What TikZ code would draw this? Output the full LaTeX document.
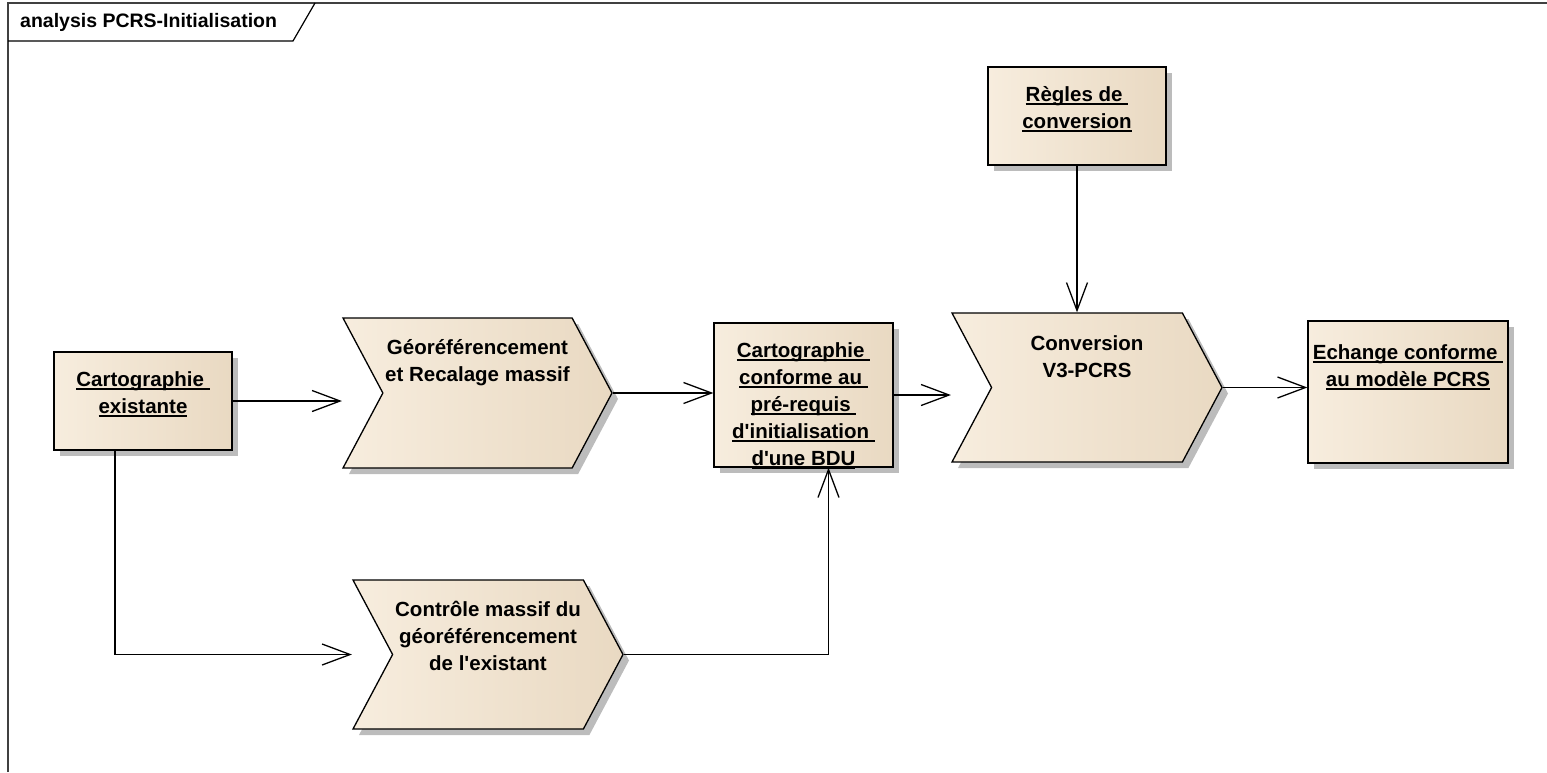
\documentclass[tikz,border=0pt]{standalone}
\usepackage{fontspec}
\setmainfont{Liberation Sans}
\usepackage{tikz}
\usetikzlibrary{arrows.meta, positioning, shapes.symbols, shadows, calc}
\definecolor{boxl}{RGB}{247,237,222}
\definecolor{boxm}{RGB}{251,243,231}
\definecolor{boxr}{RGB}{233,217,194}
\definecolor{shadowgray}{RGB}{188,188,188}
\newsavebox{\ultextbox}
\newcommand{\ulined}[1]{\sbox{\ultextbox}{#1}\rlap{\rule[-3.5pt]{\wd\ultextbox}{1.6pt}}\usebox{\ultextbox}}
\tikzset{
  arrow/.style   = {line width=1.3pt, -{Straight Barb[length=28pt, width=21pt]}},
  element/.style = {draw=black, line width=1.3pt, left color=boxl, middle color=boxm, right color=boxr,
                    drop shadow={shadow xshift=6pt, shadow yshift=-6pt, fill=shadowgray, draw=none, opacity=1}},
  umlbox/.style  = {element, rectangle, inner sep=0pt},
  chevron/.style = {element, signal, signal from=west, signal to=east, signal pointer angle=124, inner sep=0pt},
  label/.style   = {font=\bfseries\fontsize{20.5}{27}\selectfont, align=center, inner sep=0pt, execute at begin node=\strut},
}

\begin{document}
\begin{tikzpicture}[x=1pt, y=-1pt]
    \useasboundingbox (0,0) rectangle (1547,772);
    \draw [black!75, line width=1.2pt] (8,772) -- (8,3) -- (1547,3);
    \draw [black, line width=1.2pt] (8,41) -- (293,41) -- (315,3);
    \node (title) at (20,22) [anchor=west, inner sep=0pt, font=\bfseries\fontsize{19.5}{20}\selectfont]
          {analysis PCRS-Initialisation};

    \node (cartex)   at (143,401)   [umlbox, minimum width=178pt, minimum height=98pt]  {};
    \node (georef)   at (477.5,393) [chevron, minimum width=269pt, minimum height=150pt] {};
    \node (cartconf) at (803.5,395) [umlbox, minimum width=179pt, minimum height=144pt] {};
    \node (ctrl)     at (488,654.5) [chevron, minimum width=270pt, minimum height=149pt] {};
    \node (conv)     at (1087,387.5) [chevron, minimum width=270pt, minimum height=149pt] {};
    \node (regles)   at (1077,116)  [umlbox, minimum width=178pt, minimum height=98pt]  {};
    \node (echange)  at (1408,392)  [umlbox, minimum width=200pt, minimum height=142pt] {};

    \node (cartex-t)   [label, below=20pt of cartex.north]   {\ulined{Cartographie\ }\\\ulined{existante}};
    \node (georef-t)   [label, below=22pt of georef.north]   {Géoréférencement\\et Recalage massif};
    \node (cartconf-t) [label, below=20pt of cartconf.north]
          {\ulined{Cartographie\ }\\\ulined{conforme au\ }\\\ulined{pré-requis\ }\\\ulined{d\textquotesingle initialisation\ }\\\ulined{d\textquotesingle une BDU}};
    \node (ctrl-t)     [label, below=22pt of ctrl.north]     {Contrôle massif du\\géoréférencement\\de l\textquotesingle existant};
    \node (conv-t)     [label, below=23pt of conv.north]     {Conversion\\V3-PCRS};
    \node (regles-t)   [label, below=20pt of regles.north]   {\ulined{Règles de\ }\\\ulined{conversion}};
    \node (echange-t)  [label, below=24pt of echange.north]  {\ulined{Echange conforme\ }\\\ulined{au modèle PCRS}};

    \draw [arrow] (cartex.east)   -- (cartex.east -| georef.north west);
    \draw [arrow] (georef.east)   -- (georef.east -| cartconf.west);
    \draw [arrow] (cartconf.east) -- (cartconf.east -| conv.north west);
    \draw [arrow] (conv.east)     -- (conv.east -| echange.west);
    \draw [arrow] (regles.south)  -- (regles.south |- conv.north);
    \draw [arrow] ($(cartex.south)+(-28,0)$) |- (ctrl.north west |- ctrl.east);
    \draw [arrow] (ctrl.east) -| ($(cartconf.south)+(25,0)$);
\end{tikzpicture}
\end{document}
